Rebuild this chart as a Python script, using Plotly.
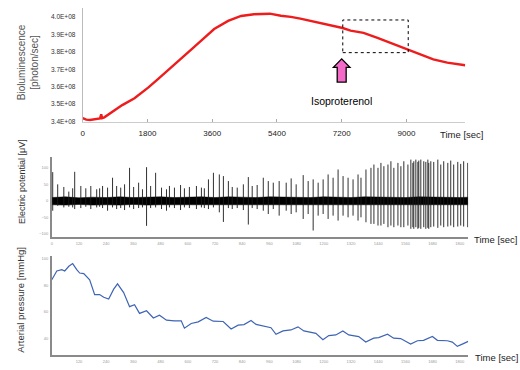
import plotly.graph_objects as go

W, H = 520, 370

# ---------------- top panel: bioluminescence ----------------
biolum_t = [0, 100, 200, 300, 400, 480, 515, 540, 600, 700, 886, 1100, 1440, 1828,
            2100, 2382, 2742, 3000, 3295, 3655, 4043, 4403, 4763, 4957, 5200, 5511,
            5788, 6050, 6342, 6812, 7227, 7448, 7808, 8195, 8638, 9026, 9387, 9747,
            10135, 10412, 10634]
biolum_v = [3.420, 3.412, 3.410, 3.412, 3.414, 3.418, 3.442, 3.420, 3.425, 3.440,
            3.468, 3.495, 3.534, 3.596, 3.645, 3.698, 3.766, 3.810, 3.864, 3.930,
            3.977, 4.005, 4.015, 4.015, 4.018, 4.006, 4.000, 3.990, 3.977, 3.955,
            3.936, 3.921, 3.908, 3.879, 3.845, 3.813, 3.785, 3.757, 3.738, 3.728,
            3.723]  # x 1e8 photon/sec
top_x_ticks = [0, 1800, 3600, 5400, 7200, 9000]
top_y_ticks = [3.4e8, 3.5e8, 3.6e8, 3.7e8, 3.8e8, 3.9e8, 4.0e8]
top_y_labels = ["3.4E+08", "3.5E+08", "3.6E+08", "3.7E+08", "3.8E+08", "3.9E+08", "4.0E+08"]
zoom_box_t = [7230, 9050]
zoom_box_v = [3.795e8, 3.982e8]
iso_time = 7200
iso_label = "Isoproterenol"

# ---------------- middle panel: electric potential ----------------
spike_t = [4, 26, 53, 75, 92, 101, 128, 150, 172, 198, 211, 224, 246, 268, 286, 304,
           321, 343, 361, 383, 400, 418, 436, 458, 484, 506, 519, 541, 568, 585, 607,
           638, 660, 673, 691, 713, 739, 757, 779, 796, 818, 845, 867, 884, 906,
           933, 955, 977, 1003, 1034, 1056, 1078, 1109, 1131, 1153, 1175, 1197, 1219,
           1241, 1263, 1285, 1307, 1329, 1351, 1364, 1386, 1408, 1421, 1439, 1452,
           1465, 1483, 1496, 1509, 1527, 1540, 1553, 1571, 1584, 1593, 1597, 1606,
           1615, 1619, 1628, 1641, 1650, 1659, 1663, 1672, 1685, 1703, 1716, 1729,
           1747, 1760, 1773, 1791, 1804, 1817, 1835]
spike_up = [87, 50, 42, 28, 38, 88, 45, 38, 45, 35, 38, 45, 40, 70, 45, 40,
            50, 100, 42, 55, 35, 102, 45, 85, 40, 35, 45, 40, 48, 38, 42,
            45, 40, 38, 65, 85, 80, 75, 60, 42, 40, 50, 72, 45, 48,
            70, 60, 55, 60, 55, 68, 50, 78, 60, 65, 55, 65, 80,
            70, 95, 75, 70, 65, 80, 70, 95, 100, 110, 100, 115,
            105, 110, 120, 100, 115, 105, 120, 110, 125, 115, 120, 125,
            118, 122, 125, 120, 118, 125, 115, 120, 118, 125, 110, 120,
            115, 122, 110, 118, 112, 120, 115]
spike_down = [-30, -15, -20, -18, -20, -25, -22, -18, -25, -20, -18, -22, -30, -20, -25, -22,
              -28, -20, -25, -22, -20, -76, -22, -20, -25, -30, -20, -22, -28, -20, -22,
              -25, -20, -22, -25, -20, -35, -64, -22, -25, -22, -28, -72, -22, -25,
              -30, -40, -25, -45, -30, -40, -35, -55, -40, -90, -45, -40, -55,
              -45, -60, -45, -50, -45, -60, -50, -65, -70, -70, -75, -75,
              -70, -80, -75, -80, -75, -80, -80, -75, -85, -80, -85, -80,
              -85, -82, -85, -80, -85, -82, -85, -80, -78, -82, -75, -80,
              -78, -75, -80, -78, -75, -78, -80]
noise_t = [0, 60, 120, 180, 240, 300, 360, 420, 480, 540, 600, 660, 720, 780, 840,
           900, 960, 1020, 1080, 1140, 1200, 1260, 1320, 1380, 1440, 1500, 1560,
           1620, 1680, 1740, 1800, 1837]
noise_hi = [10, 12, 9, 11, 10, 12, 10, 11, 12, 10, 11, 12, 10, 12, 11,
            10, 12, 11, 12, 10, 12, 11, 10, 12, 11, 12, 10, 12, 11, 12, 10, 11]
noise_lo = [-12, -13, -11, -13, -12, -13, -11, -13, -12, -12, -13, -12, -13, -11, -13,
            -12, -12, -13, -12, -12, -13, -12, -12, -13, -12, -12, -13, -12, -12, -13, -12, -12]
mid_y_ticks = [-100, -50, 0, 50, 100]
mid_x_ticks = [0, 120, 240, 360, 480, 600, 720, 840, 960, 1080, 1200, 1320, 1440,
               1560, 1680, 1800]

# ---------------- bottom panel: arterial pressure ----------------
bp_t = [0, 22, 44, 57, 75, 92, 110, 123, 141, 167, 189, 211, 229, 251, 273, 290,
        317, 343, 365, 387, 418, 448, 475, 506, 541, 571, 585, 615, 646, 681, 712,
        756, 791, 822, 848, 879, 901, 923, 967, 989, 1020, 1055, 1086, 1112, 1165,
        1196, 1222, 1253, 1284, 1310, 1354, 1385, 1420, 1442, 1481, 1508, 1539,
        1583, 1613, 1640, 1679, 1701, 1745, 1767, 1789, 1811, 1837]
bp_v = [84, 90.5, 91.5, 90.5, 94, 96, 91.5, 89, 88.6, 84, 73, 73, 71, 69.7, 77, 81,
        74.5, 64, 65.5, 59, 61, 55.6, 57.6, 54, 53.5, 53.5, 48, 51.5, 52.7, 56, 53.2,
        53, 47.4, 50.3, 50.7, 53.7, 50.8, 50, 48.4, 43.5, 46, 46.7, 49, 46, 44.2,
        39.4, 42.5, 43, 46, 43, 41.8, 37.7, 40.6, 41, 43.5, 40.6, 40.3,
        36.2, 38.7, 39, 41.8, 39, 38.7, 37.7, 34.5, 36.2, 38.2]
bot_y_ticks = [40, 60, 80, 100]
bot_x_ticks = [120, 240, 360, 480, 600, 720, 840, 960, 1080, 1200, 1320, 1440,
               1560, 1680, 1800]

FONT = "Liberation Sans, Arial, sans-serif"


def px_x(p):
    return p / W


def px_y(p):
    return 1 - p / H


fig = go.Figure()

fig.add_trace(go.Scatter(x=biolum_t, y=[v * 1e8 for v in biolum_v], mode="lines",
                         line=dict(color="#ee1c1c", width=2.4), xaxis="x", yaxis="y",
                         hoverinfo="skip"))

# noise band
fig.add_trace(go.Scatter(x=noise_t, y=noise_lo, mode="lines", line=dict(color="black", width=0.5),
                         xaxis="x2", yaxis="y2", hoverinfo="skip"))
fig.add_trace(go.Scatter(x=noise_t, y=noise_hi, mode="lines", line=dict(color="black", width=0.5),
                         fill="tonexty", fillcolor="black", xaxis="x2", yaxis="y2",
                         hoverinfo="skip"))
sx, sy = [], []
for t, u, d in zip(spike_t, spike_up, spike_down):
    sx += [t, t, None]
    sy += [d, u, None]
fig.add_trace(go.Scatter(x=sx, y=sy, mode="lines", line=dict(color="#1a1a1a", width=0.9),
                         xaxis="x2", yaxis="y2", hoverinfo="skip", connectgaps=False))

fig.add_trace(go.Scatter(x=bp_t, y=bp_v, mode="lines", line=dict(color="#3f64b4", width=1.2),
                         xaxis="x3", yaxis="y3", hoverinfo="skip"))

top_range_x = [0, 10634]
mid_range_x = [0, 1837]

small = dict(family=FONT, size=4, color="#999999")

fig.update_layout(
    width=W, height=H, margin=dict(l=0, r=0, t=0, b=0),
    paper_bgcolor="white", plot_bgcolor="white", showlegend=False,
    font=dict(family=FONT),
    xaxis=dict(domain=[px_x(81), px_x(465)], range=top_range_x, anchor="y",
               tickvals=top_x_ticks, ticks="inside", ticklen=3, tickcolor="#aaaaaa",
               showline=True, linecolor="#cccccc", linewidth=1, showgrid=False,
               zeroline=False, tickfont=dict(family=FONT, size=8, color="#222222"),
               ticklabelstandoff=4),
    yaxis=dict(domain=[px_y(122), px_y(7)], range=[3.4e8, 4.051e8], anchor="x",
               tickvals=top_y_ticks, ticktext=top_y_labels, ticks="",
               showline=True, linecolor="#bbbbbb", linewidth=1, showgrid=False,
               zeroline=False, tickfont=dict(family=FONT, size=6.5, color="#333333"),
               ticklabelstandoff=5),
    xaxis2=dict(domain=[px_x(50), px_x(468)], range=mid_range_x, anchor="y2",
                tickvals=mid_x_ticks, ticks="", showline=True, linecolor="#8a8a8a",
                linewidth=1.5, showgrid=False, zeroline=False, tickfont=small,
                ticklabelstandoff=1),
    yaxis2=dict(domain=[px_y(239), px_y(158)], range=[-111, 132], anchor="x2",
                tickvals=mid_y_ticks, ticks="", showline=True, linecolor="#8a8a8a",
                linewidth=1.5, showgrid=False, zeroline=False, tickfont=small,
                ticklabelstandoff=1),
    xaxis3=dict(domain=[px_x(50), px_x(468)], range=mid_range_x, anchor="y3",
                tickvals=bot_x_ticks, ticks="", showline=True, linecolor="#8a8a8a",
                linewidth=1.5, showgrid=False, zeroline=False, tickfont=small,
                ticklabelstandoff=1),
    yaxis3=dict(domain=[px_y(358), px_y(258)], range=[28, 101.5], anchor="x3",
                tickvals=bot_y_ticks, ticks="", showline=True, linecolor="#8a8a8a",
                linewidth=1.5, showgrid=False, zeroline=False, tickfont=small,
                ticklabelstandoff=1),
)

# dotted zoom box
fig.add_shape(type="rect", xref="x", yref="y", x0=zoom_box_t[0], x1=zoom_box_t[1],
              y0=zoom_box_v[0], y1=zoom_box_v[1], line=dict(color="black", width=1, dash="dot"))

# pink block arrow (sizes in pixels converted to data units)
sec_per_px = (top_range_x[1] - top_range_x[0]) / (465 - 81)
hw, sw = 8.3 * sec_per_px, 4.5 * sec_per_px
yt, yh, yb = px_y(58.5), px_y(67), px_y(82)
path = (f"M {iso_time - sw},{yb} L {iso_time - sw},{yh} L {iso_time - hw},{yh} "
        f"L {iso_time},{yt} L {iso_time + hw},{yh} L {iso_time + sw},{yh} "
        f"L {iso_time + sw},{yb} Z")
fig.add_shape(type="path", xref="x", yref="paper", path=path,
              fillcolor="#f36ac8", line=dict(color="black", width=1.3))

fig.add_annotation(x=iso_time, y=px_y(93), xref="x", yref="paper", text=iso_label,
                   showarrow=False, font=dict(family=FONT, size=10.5, color="black"))

# Time labels
fig.add_annotation(x=px_x(438), y=px_y(135), xref="paper", yref="paper", text="Time [sec]",
                   showarrow=False, xanchor="left", yanchor="middle",
                   font=dict(family=FONT, size=9.5, color="#222222"))
fig.add_annotation(x=px_x(472), y=px_y(241), xref="paper", yref="paper", text="Time [sec]",
                   showarrow=False, xanchor="left", yanchor="middle",
                   font=dict(family=FONT, size=9.5, color="#222222"))
fig.add_annotation(x=px_x(473), y=px_y(360), xref="paper", yref="paper", text="Time [sec]",
                   showarrow=False, xanchor="left", yanchor="middle",
                   font=dict(family=FONT, size=9.5, color="#222222"))

# y axis titles
fig.add_annotation(x=px_x(26), y=px_y(62), xref="paper", yref="paper",
                   text="Bioluminescence<br>[photon/sec]", textangle=-90, showarrow=False,
                   xanchor="center", yanchor="middle",
                   font=dict(family=FONT, size=10, color="#555555"))
fig.add_annotation(x=px_x(20), y=px_y(182), xref="paper", yref="paper",
                   text="Electric potential [μV]", textangle=-90, showarrow=False,
                   xanchor="center", yanchor="middle",
                   font=dict(family=FONT, size=9, color="#333333"))
fig.add_annotation(x=px_x(19), y=px_y(302), xref="paper", yref="paper",
                   text="Arterial pressure [mmHg]", textangle=-90, showarrow=False,
                   xanchor="center", yanchor="middle",
                   font=dict(family=FONT, size=9.5, color="#333333"))

fig.write_html("out.html", config={"displayModeBar": False},
               post_script="document.body.style.margin='0';document.body.style.padding='0';")
